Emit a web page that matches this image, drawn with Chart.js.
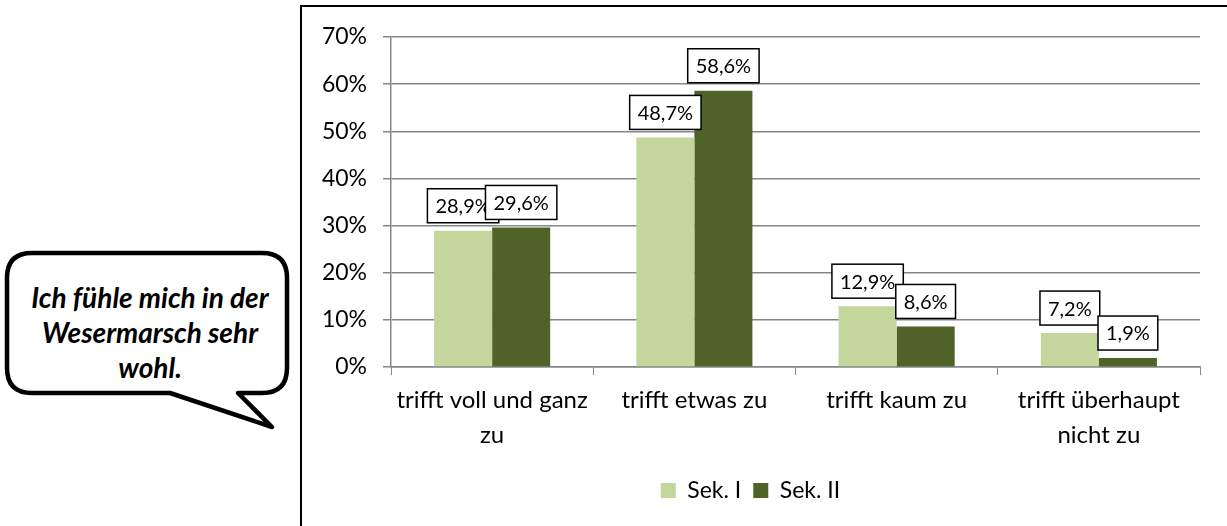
<!DOCTYPE html>
<html>
<head>
<meta charset="utf-8">
<script src="https://cdn.jsdelivr.net/npm/chart.js@4"></script>
<style>
  body { margin: 0; background: #fff; width: 1227px; height: 526px; overflow: hidden; position: relative; }
  #frame { position: absolute; left: 300px; top: 5px; width: 1000px; height: 600px; border: 2px solid #000; }
  #wrap { position: absolute; left: 301px; top: 6px; width: 926px; height: 520px; }
  #bubble { position: absolute; left: 0; top: 0; }
</style>
</head>
<body>
<svg id="bubble" width="300" height="526">
  <path d="M32,253 H262 Q287,253 287,278 V368 Q287,393 262,393 H238 L272,427 L170,393 H32 Q7,393 7,368 V278 Q7,253 32,253 Z"
        fill="#fff" stroke="#000" stroke-width="4.5" stroke-linejoin="round"/>
  <g font-family="Lato, sans-serif" font-size="28" font-weight="bold" font-style="italic" text-anchor="middle" fill="#000">
    <text x="150" y="308">Ich fühle mich in der</text>
    <text x="150" y="343">Wesermarsch sehr</text>
    <text x="150" y="378">wohl.</text>
  </g>
</svg>
<div id="frame"></div>
<div id="wrap"><canvas id="c"></canvas></div>
<script>
const categories = [
  ["trifft voll und ganz", "zu"],
  "trifft etwas zu",
  "trifft kaum zu",
  ["trifft überhaupt", "nicht zu"]
];
const sek1 = [28.9, 48.7, 12.9, 7.2];
const sek2 = [29.6, 58.6, 8.6, 1.9];
const seriesNames = ["Sek. I", "Sek. II"];

const fmt = v => v.toFixed(1).replace(".", ",") + "%";

// boxed value labels above each bar
const boxLabels = {
  id: "boxLabels",
  afterDatasetsDraw(chart) {
    const ctx = chart.ctx;
    ctx.save();
    ctx.font = "20px Lato";
    ctx.textAlign = "center";
    ctx.textBaseline = "middle";
    chart.data.datasets.forEach((ds, i) => {
      chart.getDatasetMeta(i).data.forEach((bar, j) => {
        const txt = fmt(ds.data[j]);
        const w = ctx.measureText(txt).width + 16;
        const h = 34;
        const x = bar.x - w / 2;
        const y = bar.y - 8 - h;
        ctx.fillStyle = "#fff";
        ctx.fillRect(x, y, w, h);
        ctx.lineWidth = 1.5;
        ctx.strokeStyle = "#000";
        ctx.strokeRect(x, y, w, h);
        ctx.fillStyle = "#000";
        ctx.fillText(txt, bar.x, y + h / 2 + 1);
      });
    });
    ctx.restore();
  }
};

new Chart(document.getElementById("c"), {
  type: "bar",
  data: {
    labels: categories,
    datasets: [{
      label: seriesNames[0],
      data: sek1,
      backgroundColor: "#c3d69b"
    }, {
      label: seriesNames[1],
      data: sek2,
      backgroundColor: "#4f6228"
    }]
  },
  options: {
    responsive: true,
    maintainAspectRatio: false,
    animation: false,
    categoryPercentage: 0.574,
    barPercentage: 1,
    layout: { padding: { top: 31, right: 27, bottom: 14, left: 0 } },
    plugins: {
      legend: {
        position: "bottom",
        labels: {
          color: "#000",
          font: { family: "Lato", size: 23 },
          boxWidth: 15,
          boxHeight: 15,
          padding: 12
        }
      },
      tooltip: { enabled: false }
    },
    scales: {
      x: {
        grid: { offset: true, drawOnChartArea: false, color: "#868686", tickLength: 8 },
        border: { color: "#868686", width: 1.5 },
        ticks: { color: "#000", font: { family: "Lato", size: 24, lineHeight: 1.45 }, padding: 8, maxRotation: 0 },
        afterFit(scale) { scale.height = 100; }
      },
      y: {
        min: 0,
        max: 70,
        ticks: { stepSize: 10, color: "#000", font: { family: "Lato", size: 23 }, padding: 16, callback: v => v + "%" },
        grid: { color: "#868686", lineWidth: 1.5, tickLength: 8 },
        border: { color: "#868686", width: 1.5 },
        afterFit(scale) { scale.width = 90; }
      }
    }
  },
  plugins: [boxLabels]
});
</script>
</body>
</html>
